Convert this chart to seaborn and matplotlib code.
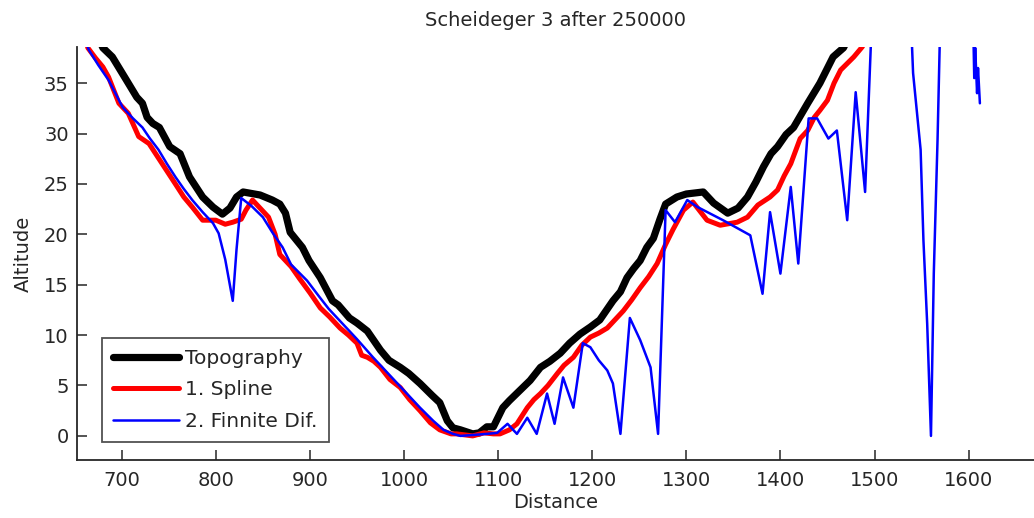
import numpy as np
import pandas as pd
import matplotlib
matplotlib.use("Agg")
import matplotlib.pyplot as plt
import seaborn as sns

# ---- data ----
topo_x = [668, 680, 690, 705, 716, 722, 727, 733, 740, 751, 762, 772, 786, 797, 807, 815,
          822, 829, 847, 860, 868, 874, 879, 892, 899, 911, 924, 930, 942, 950, 961, 975,
          984, 996, 1005, 1017, 1030, 1038, 1046, 1052, 1060, 1073, 1080, 1088, 1095, 1105,
          1112, 1123, 1134, 1145, 1155, 1166, 1176, 1187, 1198, 1208, 1222, 1230, 1237,
          1244, 1251, 1258, 1265, 1272, 1278, 1290, 1300, 1318, 1329, 1344, 1355, 1365,
          1374, 1382, 1390, 1397, 1406, 1414, 1429, 1442, 1456, 1467, 1480]
topo_y = [41.0, 38.5, 37.6, 35.3, 33.6, 33.0, 31.6, 31.0, 30.6, 28.7, 28.0, 25.7, 23.7, 22.7,
          22.0, 22.6, 23.7, 24.2, 23.9, 23.4, 23.0, 22.1, 20.2, 18.7, 17.4, 15.7, 13.4, 13.0,
          11.7, 11.2, 10.4, 8.5, 7.5, 6.8, 6.2, 5.2, 4.0, 3.3, 1.5, 0.8, 0.6, 0.2, 0.3, 0.9,
          0.9, 2.8, 3.5, 4.5, 5.5, 6.8, 7.4, 8.2, 9.2, 10.1, 10.8, 11.5, 13.4, 14.3, 15.7,
          16.6, 17.4, 18.7, 19.6, 21.5, 23.0, 23.7, 24.0, 24.2, 23.1, 22.1, 22.6, 23.7,
          25.2, 26.7, 28.0, 28.7, 29.9, 30.6, 33.0, 35.0, 37.6, 38.5, 41.0]

spline_x = [658, 664, 672, 680, 686, 697, 707, 718, 729, 743, 750, 757, 766, 775, 786, 800,
            810, 818, 827, 832, 839, 848, 856, 863, 868, 880, 889, 900, 911, 921, 932, 941,
            950, 955, 961, 968, 975, 985, 996, 1006, 1017, 1028, 1038, 1050, 1056, 1073,
            1085, 1095, 1102, 1112, 1120, 1131, 1138, 1145, 1153, 1163, 1170, 1180, 1189,
            1198, 1207, 1216, 1225, 1233, 1242, 1251, 1260, 1269, 1278, 1286, 1297, 1307,
            1322, 1336, 1354, 1365, 1376, 1389, 1397, 1404, 1411, 1421, 1429, 1436, 1442,
            1450, 1457, 1464, 1478, 1487, 1498]
spline_y = [41.0, 38.5, 37.5, 36.6, 35.6, 33.0, 32.0, 29.7, 29.0, 27.0, 26.0, 25.0, 23.7,
            22.7, 21.4, 21.4, 21.0, 21.2, 21.5, 22.4, 23.4, 22.5, 21.7, 20.0, 18.0, 16.8,
            15.6, 14.2, 12.7, 11.8, 10.7, 10.0, 9.2, 8.0, 7.8, 7.4, 6.8, 5.6, 4.8, 3.6, 2.5,
            1.3, 0.6, 0.2, 0.2, 0.0, 0.3, 0.2, 0.2, 0.6, 1.2, 2.8, 3.6, 4.2, 5.0, 6.2, 7.0,
            7.8, 9.0, 9.8, 10.2, 10.7, 11.6, 12.4, 13.5, 14.7, 15.8, 17.1, 19.0, 20.5, 22.4,
            23.2, 21.4, 20.9, 21.2, 21.7, 22.9, 23.7, 24.4, 25.8, 27.0, 29.5, 30.3, 31.6,
            32.3, 33.3, 35.0, 36.3, 37.6, 38.6, 41.0]

fd_x = [655, 665, 675, 686, 701, 712, 722, 730, 739, 748, 757, 766, 775, 786, 797, 803, 810,
        818, 822, 827, 838, 850, 860, 871, 880, 897, 910, 920, 932, 950, 967, 985, 1003,
        1017, 1031, 1042, 1052, 1060, 1075, 1088, 1099, 1110, 1120, 1131, 1141, 1152, 1160,
        1169, 1180, 1190, 1198, 1207, 1216, 1222, 1230, 1240, 1251, 1262, 1270, 1278, 1288,
        1301, 1312, 1339, 1368, 1381, 1389, 1400, 1411, 1419, 1430, 1439, 1451, 1460, 1471,
        1480, 1490, 1505, 1535, 1541, 1549, 1552, 1556, 1560, 1563, 1567, 1572, 1603, 1606,
        1607, 1609, 1610, 1612]
fd_y = [41.0, 38.3, 36.8, 35.3, 32.6, 31.5, 30.6, 29.5, 28.4, 27.0, 25.7, 24.5, 23.4, 22.2,
        21.1, 20.1, 17.5, 13.4, 18.5, 23.6, 22.8, 21.7, 20.2, 18.7, 17.0, 15.4, 13.8, 12.6,
        11.4, 9.6, 7.8, 6.0, 4.2, 2.8, 1.5, 0.6, 0.2, 0.0, 0.1, 0.2, 0.3, 1.2, 0.2, 1.8, 0.2,
        4.2, 1.2, 5.8, 2.8, 9.2, 8.8, 7.5, 6.5, 5.2, 0.2, 11.7, 9.5, 6.8, 0.2, 22.4, 21.2,
        23.4, 22.7, 21.4, 19.9, 14.1, 22.2, 16.1, 24.7, 17.1, 31.5, 31.5, 29.5, 30.3, 21.4,
        34.1, 24.2, 60.0, 50.0, 36.0, 28.4, 19.4, 11.1, 0.0, 16.1, 29.4, 50.0, 50.0, 35.5,
        38.5, 34.0, 36.5, 33.0]

series_names = ["Topography", "1. Spline", "2. Finnite Dif."]
title_text = "Scheideger 3 after 250000"
x_label = "Distance"
y_label = "Altitude"
x_ticks = [700, 800, 900, 1000, 1100, 1200, 1300, 1400, 1500, 1600]
y_ticks = [0, 5, 10, 15, 20, 25, 30, 35]

# ---- figure ----
sns.set_style("white")
plt.rcParams["font.family"] = ["DejaVu Sans"]

fig = plt.figure(figsize=(10.34, 5.18), dpi=100)
ax = fig.add_axes([0.0745, 0.112, 0.9255, 0.797])

styles = [
    (topo_x, topo_y, "black", 5.2),
    (spline_x, spline_y, "#ff0000", 3.6),
    (fd_x, fd_y, "#0000ff", 1.8),
]
for (xs, ys, col, lw), name in zip(styles, series_names):
    df = pd.DataFrame({"x": xs, "y": ys})
    sns.lineplot(data=df, x="x", y="y", ax=ax, color=col, linewidth=lw,
                 sort=False, estimator=None, label=name)

ax.set_xlim(652.5, 1669.5)
ax.set_ylim(-2.39, 38.57)
ax.set_xticks(x_ticks)
ax.set_yticks(y_ticks)
ax.tick_params(axis="both", direction="in", length=7, width=1.1, colors="#262626",
               labelsize=14, labelcolor="#262626", bottom=True, left=True,
               top=False, right=False)
ax.tick_params(axis="x", pad=8)
ax.tick_params(axis="y", pad=6)
for side in ["top", "right"]:
    ax.spines[side].set_visible(False)
for side in ["left", "bottom"]:
    ax.spines[side].set_color("#262626")
    ax.spines[side].set_linewidth(1.3)

ax.set_title(title_text, fontsize=14, color="#262626", pad=15)
ax.set_xlabel(x_label, fontsize=14, color="#262626", labelpad=2)
ax.set_ylabel(y_label, fontsize=14, color="#262626", labelpad=8)

leg = ax.legend(loc="lower left", bbox_to_anchor=(0.026, 0.044), borderaxespad=0,
                prop={"size": 14.5}, frameon=True, fancybox=False, handlelength=3.3,
                handletextpad=0.3, labelspacing=0.62, borderpad=0.55)
leg.get_frame().set_edgecolor("#262626")
leg.get_frame().set_linewidth(1.3)
for t in leg.get_texts():
    t.set_color("#262626")

fig.savefig("out.png", dpi=100)
